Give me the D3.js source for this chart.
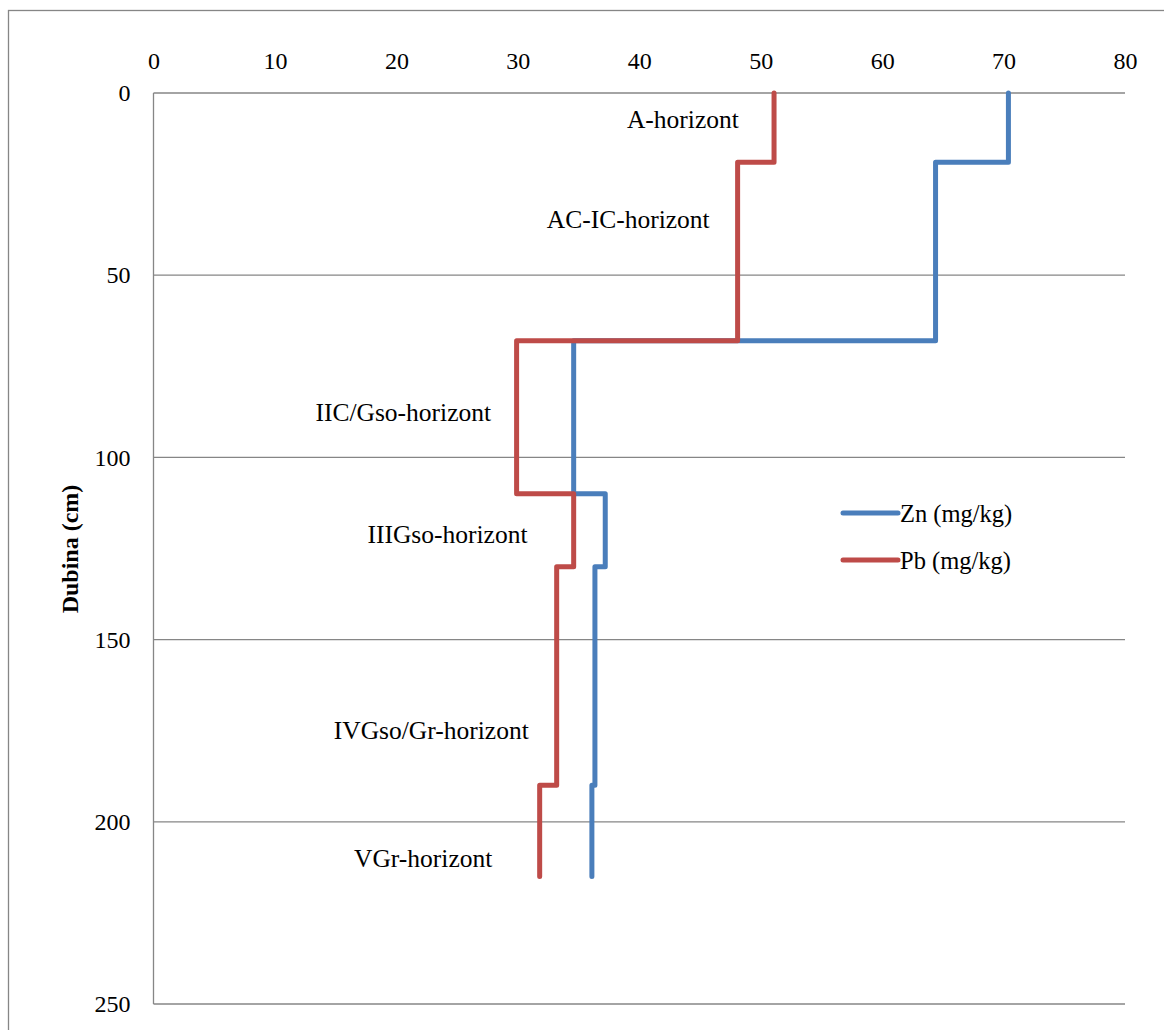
<!DOCTYPE html>
<html>
<head>
<meta charset="utf-8">
<script src="https://cdnjs.cloudflare.com/ajax/libs/d3/7.8.5/d3.min.js"></script>
<style>
  body { margin: 0; background: #fff; }
  text { font-family: "Liberation Serif", "Times New Roman", serif; fill: #000; }
</style>
</head>
<body>
<div id="chart"></div>
<script>
// depth boundaries of the horizons (cm)
var depths = [0, 19, 68, 110, 130, 190, 215];
// concentration in each horizon (mg/kg)
var zn = [70.4, 64.4, 34.6, 37.2, 36.35, 36.1];
var pb = [51.1, 48.1, 29.9, 34.6, 33.2, 31.8];

var horizonNames = ["A-horizont", "AC-IC-horizont", "IIC/Gso-horizont",
                    "IIIGso-horizont", "IVGso/Gr-horizont", "VGr-horizont"];
// where the horizon names sit (value of right end, depth of baseline)
var labelX = [48.2, 45.8, 27.8, 30.8, 30.9, 27.9];
var labelDepth = [9.6, 37.0, 90.0, 123.5, 177.3, 212.4];

var xTicks = [0, 10, 20, 30, 40, 50, 60, 70, 80];
var yTicks = [0, 50, 100, 150, 200, 250];

var series = [
  {name: "Zn (mg/kg)", values: zn, color: "#4a7ebb"},
  {name: "Pb (mg/kg)", values: pb, color: "#be4b48"}
];

var serif = "'Liberation Serif', 'Times New Roman', serif";

var svg = d3.select("#chart")
            .append("svg")
            .attr("width", 1164)
            .attr("height", 1030);

// outer chart frame
svg.append("rect")
    .attr("x", 8.5).attr("y", 10.5)
    .attr("width", 1200).attr("height", 1100)
    .attr("fill", "none")
    .attr("stroke", "#868686")
    .attr("stroke-width", 1.3);

var x = d3.scaleLinear().domain([0, 80]).range([153.5, 1125]);
var y = d3.scaleLinear().domain([0, 250]).range([93, 1004]);

// horizontal grid
svg.append("g")
  .selectAll("line")
  .data(yTicks)
  .enter().append("line")
    .attr("x1", x(0)).attr("x2", x(80))
    .attr("y1", function(d) { return y(d); })
    .attr("y2", function(d) { return y(d); })
    .attr("stroke", "#868686")
    .attr("stroke-width", 1.3);

// left axis line
svg.append("line")
    .attr("x1", x(0)).attr("x2", x(0))
    .attr("y1", y(0)).attr("y2", y(250))
    .attr("stroke", "#868686")
    .attr("stroke-width", 1.3);

// top axis
var xAxis = svg.append("g")
    .attr("transform", "translate(0," + y(0) + ")")
    .call(d3.axisTop(x).tickValues(xTicks).tickSize(0).tickPadding(24))
    .attr("font-family", serif)
    .attr("font-size", 24);
xAxis.select(".domain").remove();
xAxis.selectAll("text").attr("fill", "#000");

// left axis
var yAxis = svg.append("g")
    .attr("transform", "translate(" + x(0) + ",0)")
    .call(d3.axisLeft(y).tickValues(yTicks).tickSize(0).tickPadding(23))
    .attr("font-family", serif)
    .attr("font-size", 24);
yAxis.select(".domain").remove();
yAxis.selectAll("text").attr("fill", "#000");

svg.append("text")
    .attr("transform", "translate(78," + 549 + ") rotate(-90)")
    .attr("text-anchor", "middle")
    .style("font-size", "24px")
    .style("font-weight", "bold")
    .text("Dubina (cm)");

// step profiles
function stepPoints(vals) {
  var pts = [];
  vals.forEach(function(v, i) {
    pts.push([v, depths[i]]);
    pts.push([v, depths[i + 1]]);
  });
  return pts;
}

var line = d3.line()
    .x(function(d) { return x(d[0]); })
    .y(function(d) { return y(d[1]); });

svg.selectAll(".profile")
  .data(series)
  .enter().append("path")
    .attr("class", "profile")
    .attr("d", function(d) { return line(stepPoints(d.values)); })
    .attr("fill", "none")
    .attr("stroke", function(d) { return d.color; })
    .attr("stroke-width", 5)
    .attr("stroke-linejoin", "round")
    .attr("stroke-linecap", "round");

// horizon names
svg.selectAll(".hname")
  .data(horizonNames)
  .enter().append("text")
    .attr("class", "hname")
    .attr("x", function(d, i) { return x(labelX[i]); })
    .attr("y", function(d, i) { return y(labelDepth[i]); })
    .attr("text-anchor", "end")
    .style("font-size", "25.5px")
    .text(function(d) { return d; });

// legend
var legend = svg.selectAll(".legend")
  .data(series)
  .enter().append("g")
    .attr("class", "legend")
    .attr("transform", function(d, i) { return "translate(843," + (513 + i * 47) + ")"; });

legend.append("line")
    .attr("x1", 0).attr("x2", 55)
    .attr("stroke", function(d) { return d.color; })
    .attr("stroke-width", 5)
    .attr("stroke-linecap", "round");

legend.append("text")
    .attr("x", 57)
    .attr("y", 9)
    .style("font-size", "24.5px")
    .text(function(d) { return d.name; });
</script>
</body>
</html>
